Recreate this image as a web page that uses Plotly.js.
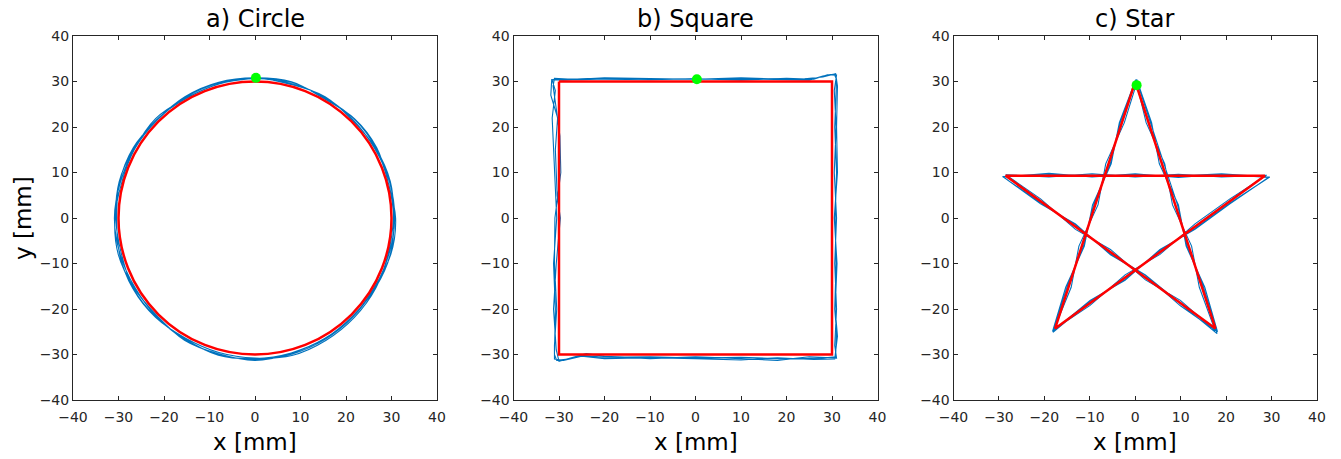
<!DOCTYPE html>
<html>
<head>
<meta charset="utf-8">
<script src="https://cdn.plot.ly/plotly-3.0.1.min.js"></script>
<style>html,body{margin:0;padding:0;background:#fff;}#chart{width:1341px;height:459px;}</style>
</head>
<body>
<div id="chart"></div>
<script>
// ---------- data (mm) ----------
const panelTitles = ["a) Circle", "b) Square", "c) Star"];
const xLabel = "x [mm]";
const yLabel = "y [mm]";
const tickVals = [-40, -30, -20, -10, 0, 10, 20, 30, 40];

// Circle: measured trajectory (4 loops)
const circleX = [0,7.92,15.35,21.57,26.33,29.56,30.7,29.46,26.33,21.64,15.4,8.02,0,-8.02,-15.45,-21.64,-26.41,-29.65,-30.9,-29.56,-26.41,-21.5,-15.3,-7.95,0,
  8.0,15.25,21.78,26.59,29.27,30.5,29.75,26.5,21.5,15.3,7.95,0,-8.07,-15.35,-21.78,-26.76,-29.36,-30.6,-29.85,-26.59,-21.64,-15.15,-7.89,0,
  7.87,15.4,21.43,26.5,29.75,30.4,29.27,26.59,21.85,15.55,8.1,0,-7.92,-15.25,-21.85,-26.85,-29.75,-30.4,-29.75,-26.76,-21.57,-15.4,-7.97,0,
  8.02,15.15,21.85,26.76,29.27,30.9,29.85,26.24,21.57,15.3,7.97,0,-8.0,-15.5,-21.5,-26.59,-30.04,-30.8,-29.27,-26.41,-21.85,-15.2,-7.89,0];
const circleY = [30.8,29.56,26.59,21.57,15.2,7.92,0,-7.89,-15.2,-21.64,-26.67,-29.94,-31.1,-29.94,-26.76,-21.64,-15.25,-7.95,0,7.92,15.25,21.5,26.5,29.65,30.6,
  29.85,26.41,21.78,15.35,7.84,0,-7.97,-15.3,-21.5,-26.5,-29.65,-30.9,-30.14,-26.59,-21.78,-15.45,-7.87,0,8.0,15.35,21.64,26.24,29.46,30.7,
  29.36,26.67,21.43,15.3,7.97,0,-7.84,-15.35,-21.85,-26.93,-30.23,-30.8,-29.56,-26.41,-21.85,-15.5,-7.97,0,7.97,15.45,21.57,26.67,29.85,30.8,
  29.94,26.24,21.85,15.45,7.84,0,-8.0,-15.15,-21.57,-26.5,-29.75,-31.3,-29.85,-26.85,-21.5,-15.35,-8.05,0,7.84,15.25,21.85,26.33,29.46,30.7];
// Circle: target (bounding box of the reference circle)
const circleTarget = {x0: -30, y0: -30, x1: 30, y1: 30};
const circleStart = {x: 0.2, y: 30.8};

// Square: measured trajectory (3 loops)
const squareX = [0.3,10,20,25,28,30.5,31,30.8,30.6,31,30.7,30.9,30.6,31,30.8,28,20,10,0,-10,-20,-25,-28,-30.5,-31,-30.8,-31.2,-30.5,-31,-31.5,-30.8,-31.5,-30,-20,-10,0.3,
  10,20,26,29,31,30.5,30.9,30.5,31,30.6,31,30.6,31,25,18,10,0,-10,-20,-24,-27,-30,-30.6,-31.2,-30.6,-29.7,-30.4,-30.8,-30.3,-31.8,-31.6,-29,-20,-10,0,
  10,20,24,28,30.8,31.2,31,31.2,30.5,31.1,30.7,31.2,30.6,26,18,10,0,-10,-20,-25,-29,-31,-31,-30.5,-31,-30.9,-29.6,-29.8,-30.6,-31.3,-31,-25,-15,-5,0.3];
const squareY = [30.5,30.6,30.4,30.3,31.2,31.6,30.5,25,20,10,0,-10,-20,-25,-30.5,-30.8,-31,-30.6,-30.8,-30.5,-30.6,-30.2,-31,-31.3,-30,-20,-10,0,10,22,28,30.3,30.6,30.5,30.4,30.6,
  30.3,30.7,30.5,31.5,31.4,28,20,10,0,-10,-20,-28,-30.8,-30.5,-31.3,-30.9,-30.5,-30.9,-30.4,-29.8,-30.6,-31.5,-29,-20,-10,0,5,15,22,27,30.4,30.3,30.8,30.6,30.5,
  30.8,30.5,30.6,31.0,31.7,29,20,10,0,-10,-20,-26,-31,-31.1,-30.7,-31.2,-30.9,-30.7,-30.9,-30.4,-31.3,-31,-28,-20,-10,0,10,18,24,29,30.7,30.4,30.7,30.5,30.6];
const squareTargetX = [-30, 30, 30, -30, -30];
const squareTargetY = [30, 30, -30, -30, 30];
const squareStart = {x: 0.3, y: 30.5};

// Star: measured trajectory (3 loops)
const starX = [0.3,3.6,5.3,9.5,11.2,15.3,18.1,9.94,2.24,-5.45,-13.15,-20.84,-29.0,-19,-9.5,0,9.5,19,29.3,20.84,13.15,5.45,-2.24,-9.94,-18.2,-15.3,-11.2,-9.4,-5.3,-3.5,0.1,
  2.4,6.5,8.2,12.4,14.1,17.6,9.94,2.24,-5.45,-13.15,-20.84,-28.5,-19,-9.5,0,9.5,19,28.9,20.84,13.15,5.45,-2.24,-9.94,-17.9,-14.1,-12.4,-8.2,-6.5,-2.4,0.4,
  3.3,6.2,9.3,11.4,15.0,18.0,9.94,2.24,-5.45,-13.15,-20.84,-29.2,-19,-9.5,0,9.5,19,29.6,20.84,13.15,5.45,-2.24,-9.94,-18.1,-15.0,-11.4,-9.1,-5.5,-3.3,0.2];
const starY = [30.5,20.96,11.91,2.87,-6.18,-15.22,-25.0,-19.3,-12.6,-8.1,-1.3,3.1,9.0,9.8,9.0,9.7,8.9,9.6,8.9,3.1,-2.5,-6.9,-13.7,-18.1,-24.9,-15.22,-6.18,2.87,11.91,20.96,30.4,
  20.96,11.91,2.87,-6.18,-15.22,-24.8,-18.1,-13.6,-6.9,-2.5,4.2,9.5,9.0,9.7,9.0,9.6,9.0,9.4,4.2,-1.3,-8.0,-12.5,-19.2,-24.5,-15.22,-6.18,2.87,11.91,20.96,29.9,
  20.96,11.91,2.87,-6.18,-15.22,-25.4,-18.9,-12.5,-7.9,-1.5,3.4,9.1,9.5,9.3,9.5,9.2,9.7,9.0,3.3,-2.3,-7.1,-13.5,-18.3,-25.1,-15.22,-6.18,2.87,11.91,20.96,30.2];
const starTargetX = [0, 17.63, -28.53, 28.53, -17.63, 0];
const starTargetY = [30, -24.27, 9.27, 9.27, -24.27, 30];
const starStart = {x: 0.3, y: 29.2};

// ---------- style ----------
const BLUE = "#0072BD", RED = "#FF0000", GREEN = "#00FF00";
const FONT = "DejaVu Sans, sans-serif";
const W = 1341, H = 459;
const domains = [[73/W, 437/W], [513.5/W, 877.5/W], [953.5/W, 1317/W]];
const yDom = [1 - 400/H, 1 - 36/H];

const traces = [
  {x: circleX, y: circleY, xaxis: "x", yaxis: "y", mode: "lines", line: {color: BLUE, width: 1.1, shape: "spline", smoothing: 1}},
  {x: squareX, y: squareY, xaxis: "x2", yaxis: "y2", mode: "lines", line: {color: BLUE, width: 1.1}},
  {x: squareTargetX, y: squareTargetY, xaxis: "x2", yaxis: "y2", mode: "lines", line: {color: RED, width: 2.5}},
  {x: [squareStart.x], y: [squareStart.y], xaxis: "x2", yaxis: "y2", mode: "markers", marker: {color: GREEN, size: 10}},
  {x: starX, y: starY, xaxis: "x3", yaxis: "y3", mode: "lines", line: {color: BLUE, width: 1.1}},
  {x: starTargetX, y: starTargetY, xaxis: "x3", yaxis: "y3", mode: "lines", line: {color: RED, width: 2.5}},
  {x: [starStart.x], y: [starStart.y], xaxis: "x3", yaxis: "y3", mode: "markers", marker: {color: GREEN, size: 10}}
];

function axis(extra) {
  return Object.assign({
    range: [-40, 40], tickvals: tickVals, ticks: "inside", ticklen: 4, tickwidth: 1, tickcolor: "#262626",
    showline: true, mirror: "ticks", linecolor: "#262626", linewidth: 1,
    showgrid: false, zeroline: false, fixedrange: true,
    tickfont: {family: FONT, size: 14, color: "#262626"}
  }, extra);
}

const layout = {
  width: W, height: H, margin: {l: 0, r: 0, t: 0, b: 0},
  paper_bgcolor: "#fff", plot_bgcolor: "#fff", showlegend: false,
  xaxis: axis({domain: domains[0], anchor: "y", ticklabelstandoff: 4}),
  yaxis: axis({domain: yDom, anchor: "x"}),
  xaxis2: axis({domain: domains[1], anchor: "y2", ticklabelstandoff: 4}),
  yaxis2: axis({domain: yDom, anchor: "x2"}),
  xaxis3: axis({domain: domains[2], anchor: "y3", ticklabelstandoff: 4}),
  yaxis3: axis({domain: yDom, anchor: "x3"}),
  shapes: [
    {type: "circle", xref: "x", yref: "y", x0: circleTarget.x0, y0: circleTarget.y0, x1: circleTarget.x1, y1: circleTarget.y1,
     line: {color: RED, width: 2.5}, layer: "above"},
    {type: "circle", xref: "x", yref: "y", xsizemode: "pixel", ysizemode: "pixel", xanchor: circleStart.x, yanchor: circleStart.y,
     x0: -5, x1: 5, y0: -5, y1: 5, fillcolor: GREEN, line: {color: GREEN, width: 0}, layer: "above"}
  ],
  annotations: []
};

panelTitles.forEach((t, i) => {
  const cx = (domains[i][0] + domains[i][1]) / 2;
  layout.annotations.push({text: t, xref: "paper", yref: "paper", x: cx, y: 1 - 19/H, xanchor: "center", yanchor: "middle",
    showarrow: false, font: {family: FONT, size: 24, color: "#000"}});
});
[0, 1, 2].forEach(i => {
  const cx = (domains[i][0] + domains[i][1]) / 2;
  layout.annotations.push({text: xLabel, xref: "paper", yref: "paper", x: cx, y: 1 - 442/H, xanchor: "center", yanchor: "middle",
    showarrow: false, font: {family: FONT, size: 23, color: "#000"}});
});
layout.annotations.push({text: yLabel, xref: "paper", yref: "paper", x: 23/W, y: 1 - 218/H, xanchor: "center", yanchor: "middle",
  textangle: -90, showarrow: false, font: {family: FONT, size: 23, color: "#000"}});

Plotly.newPlot("chart", traces, layout, {displayModeBar: false, staticPlot: true});
</script>
</body>
</html>
